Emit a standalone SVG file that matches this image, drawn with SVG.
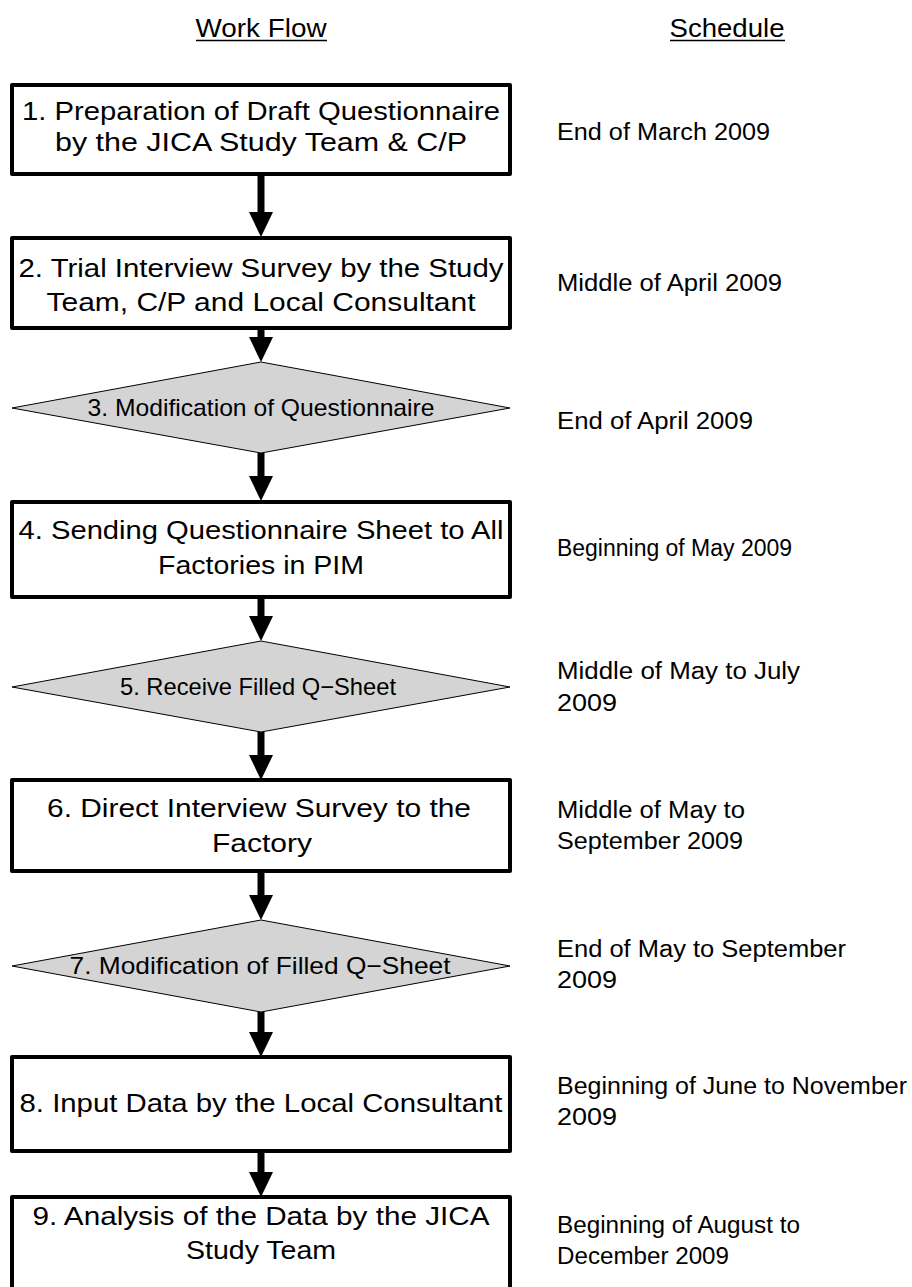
<svg xmlns="http://www.w3.org/2000/svg" width="912" height="1287" viewBox="0 0 912 1287">
  <style>
    .head { font-family: "Liberation Sans", Arial, sans-serif; font-size: 25px; fill: #000; text-anchor: middle; }
    .box { fill: #fff; stroke: #000; stroke-width: 4; stroke-linejoin: round; }
    .dia { fill: #d4d4d4; stroke: #000; stroke-width: 1; }
    .bt { font-family: "Liberation Sans", Arial, sans-serif; font-size: 26px; fill: #000; text-anchor: middle; }
    .dt { font-family: "Liberation Sans", Arial, sans-serif; font-size: 24px; fill: #000; text-anchor: middle; }
    .st { font-family: "Liberation Sans", Arial, sans-serif; font-size: 23px; fill: #000; }
    .flow { stroke: #000; stroke-width: 7; fill: none; }
    .ul { stroke: #000; stroke-width: 1.6; }
  </style>
  <defs>
    <marker id="head" markerUnits="userSpaceOnUse" markerWidth="25" markerHeight="24" viewBox="0 0 25 24" refX="0" refY="12" orient="auto">
      <path d="M0,0 L25,12 L0,24 z" fill="#000"/>
    </marker>
  </defs>

  <rect width="912" height="1287" fill="#fff"/>

  <!-- column headings -->
  <g id="headings">
    <text class="head" x="261" y="37" textLength="131" lengthAdjust="spacingAndGlyphs">Work Flow</text>
    <line class="ul" x1="196" y1="40.5" x2="327" y2="40.5"/>
    <text class="head" x="727" y="37" textLength="115" lengthAdjust="spacingAndGlyphs">Schedule</text>
    <line class="ul" x1="670" y1="40.5" x2="785" y2="40.5"/>
  </g>

  <!-- connectors -->
  <g id="connectors">
    <line class="flow" x1="261" y1="174" x2="261" y2="212" marker-end="url(#head)"/>
    <line class="flow" x1="261" y1="328" x2="261" y2="337" marker-end="url(#head)"/>
    <line class="flow" x1="261" y1="453" x2="261" y2="476" marker-end="url(#head)"/>
    <line class="flow" x1="261" y1="597" x2="261" y2="616" marker-end="url(#head)"/>
    <line class="flow" x1="261" y1="732" x2="261" y2="755" marker-end="url(#head)"/>
    <line class="flow" x1="261" y1="871" x2="261" y2="895" marker-end="url(#head)"/>
    <line class="flow" x1="261" y1="1012" x2="261" y2="1032" marker-end="url(#head)"/>
    <line class="flow" x1="261" y1="1151" x2="261" y2="1172" marker-end="url(#head)"/>
  </g>

  <!-- work flow steps -->
  <g id="step1">
    <rect class="box" x="12" y="85" width="498" height="89"/>
    <text class="bt" x="261" y="120" textLength="478" lengthAdjust="spacingAndGlyphs">1. Preparation of Draft Questionnaire</text>
    <text class="bt" x="261" y="151" textLength="412" lengthAdjust="spacingAndGlyphs">by the JICA Study Team &amp; C/P</text>
  </g>
  <g id="step2">
    <rect class="box" x="12" y="238" width="498" height="90"/>
    <text class="bt" x="261" y="277" textLength="485" lengthAdjust="spacingAndGlyphs">2. Trial Interview Survey by the Study</text>
    <text class="bt" x="261" y="311" textLength="429" lengthAdjust="spacingAndGlyphs">Team, C/P and Local Consultant</text>
  </g>
  <g id="step3">
    <polygon class="dia" points="261,362 510,408 261,453 12,408"/>
    <text class="dt" x="261" y="416" textLength="347" lengthAdjust="spacingAndGlyphs">3. Modification of Questionnaire</text>
  </g>
  <g id="step4">
    <rect class="box" x="12" y="502" width="498" height="95"/>
    <text class="bt" x="261" y="539" textLength="485" lengthAdjust="spacingAndGlyphs">4. Sending Questionnaire Sheet to All</text>
    <text class="bt" x="261" y="574" textLength="206" lengthAdjust="spacingAndGlyphs">Factories in PIM</text>
  </g>
  <g id="step5">
    <polygon class="dia" points="261,641 510,687 261,732 12,687"/>
    <text class="dt" x="258" y="695" textLength="276" lengthAdjust="spacingAndGlyphs">5. Receive Filled Q−Sheet</text>
  </g>
  <g id="step6">
    <rect class="box" x="12" y="780" width="498" height="91"/>
    <text class="bt" x="259" y="817" textLength="424" lengthAdjust="spacingAndGlyphs">6. Direct Interview Survey to the</text>
    <text class="bt" x="262" y="852" textLength="100" lengthAdjust="spacingAndGlyphs">Factory</text>
  </g>
  <g id="step7">
    <polygon class="dia" points="261,920 510,966 261,1012 12,966"/>
    <text class="dt" x="260" y="974" textLength="381" lengthAdjust="spacingAndGlyphs">7. Modification of Filled Q−Sheet</text>
  </g>
  <g id="step8">
    <rect class="box" x="12" y="1057" width="498" height="94"/>
    <text class="bt" x="261" y="1112" textLength="483" lengthAdjust="spacingAndGlyphs">8. Input Data by the Local Consultant</text>
  </g>
  <g id="step9">
    <rect class="box" x="12" y="1197" width="498" height="110"/>
    <text class="bt" x="261" y="1225" textLength="457" lengthAdjust="spacingAndGlyphs">9. Analysis of the Data by the JICA</text>
    <text class="bt" x="261" y="1259" textLength="150" lengthAdjust="spacingAndGlyphs">Study Team</text>
  </g>

  <!-- schedule column -->
  <g id="schedule">
    <text class="st" x="557" y="140" textLength="213" lengthAdjust="spacingAndGlyphs">End of March 2009</text>
    <text class="st" x="557" y="291" textLength="225" lengthAdjust="spacingAndGlyphs">Middle of April 2009</text>
    <text class="st" x="557" y="429" textLength="196" lengthAdjust="spacingAndGlyphs">End of April 2009</text>
    <text class="st" x="557" y="556" textLength="235" lengthAdjust="spacingAndGlyphs">Beginning of May 2009</text>
    <text class="st" x="557" y="679" textLength="243" lengthAdjust="spacingAndGlyphs">Middle of May to July</text>
    <text class="st" x="557" y="711" textLength="60" lengthAdjust="spacingAndGlyphs">2009</text>
    <text class="st" x="557" y="818" textLength="188" lengthAdjust="spacingAndGlyphs">Middle of May to</text>
    <text class="st" x="557" y="849" textLength="186" lengthAdjust="spacingAndGlyphs">September 2009</text>
    <text class="st" x="557" y="957" textLength="289" lengthAdjust="spacingAndGlyphs">End of May to September</text>
    <text class="st" x="557" y="988" textLength="60" lengthAdjust="spacingAndGlyphs">2009</text>
    <text class="st" x="557" y="1094" textLength="350" lengthAdjust="spacingAndGlyphs">Beginning of June to November</text>
    <text class="st" x="557" y="1125" textLength="60" lengthAdjust="spacingAndGlyphs">2009</text>
    <text class="st" x="557" y="1233" textLength="243" lengthAdjust="spacingAndGlyphs">Beginning of August to</text>
    <text class="st" x="557" y="1264" textLength="172" lengthAdjust="spacingAndGlyphs">December 2009</text>
  </g>
</svg>
